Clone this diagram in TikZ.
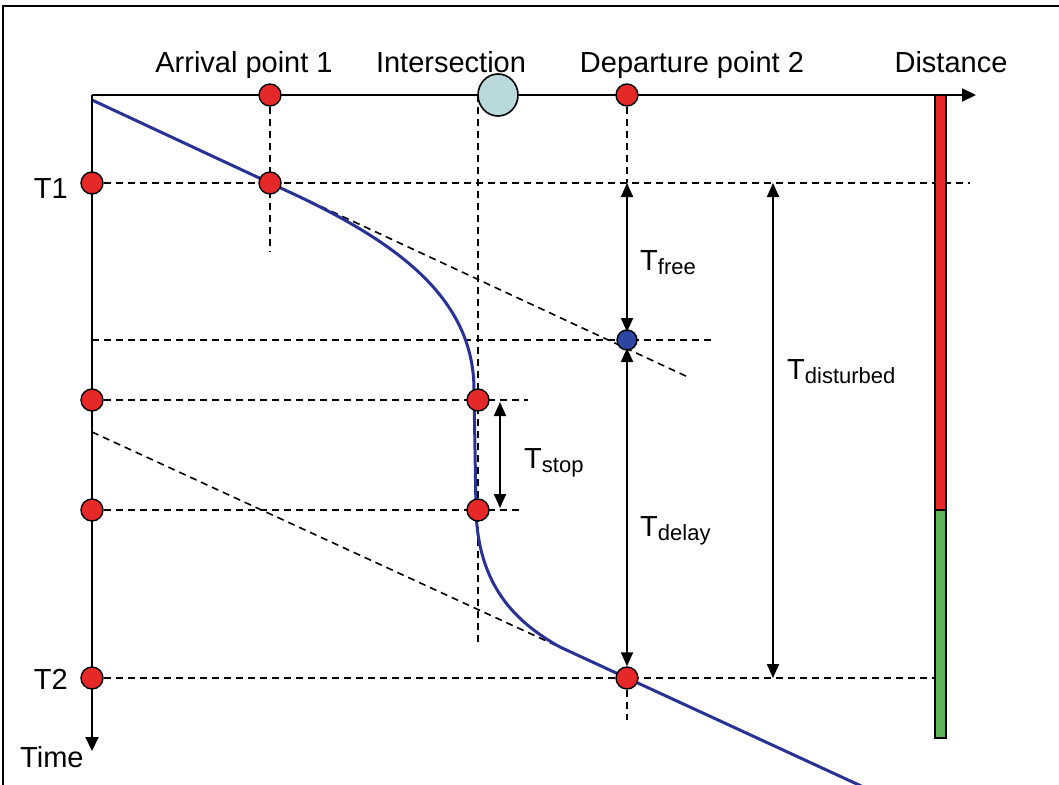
\documentclass[tikz,border=0pt]{standalone}
\usepackage{fontspec}
\setmainfont{Liberation Sans}
\usetikzlibrary{arrows.meta,positioning,calc,backgrounds,shapes.geometric}
\definecolor{dotRed}{RGB}{230,40,40}
\definecolor{dotBlue}{RGB}{45,70,160}
\definecolor{crossTeal}{RGB}{185,217,219}
\definecolor{pathBlue}{RGB}{40,50,150}
\definecolor{barGreen}{RGB}{95,178,85}
\tikzset{
  event/.style={circle, draw, line width=1.4pt, fill=dotRed, minimum size=22pt, inner sep=0pt},
  freeflow/.style={circle, draw, line width=1.4pt, fill=dotBlue, minimum size=20pt, inner sep=0pt},
  crossing/.style={ellipse, draw, line width=1.6pt, fill=crossTeal, minimum width=40pt, minimum height=42pt, inner sep=0pt},
  axis/.style={line width=2pt, -{Triangle[length=14pt, width=13pt]}},
  guide/.style={line width=1.6pt, dash pattern=on 7pt off 5pt},
  route/.style={line width=3pt, pathBlue},
  span/.style={line width=2pt, {Triangle[length=14pt, width=12pt]}-{Triangle[length=14pt, width=12pt]}},
  lbl/.style={font=\fontsize{29}{32}\selectfont, inner sep=0pt}
}
\newcommand{\tsub}[1]{T\raisebox{-4pt}{\fontsize{22}{25}\selectfont #1}}

\begin{document}
\begin{tikzpicture}[x=1pt,y=-1pt]
  \useasboundingbox (0,0) rectangle (1059,784);
  \clip (0,0) rectangle (1059,784);
  \draw[line width=2pt] (3,790) -- (3,6) -- (1065,6);

  % axes
  \coordinate (o) at (92,95);
  \coordinate (xend) at (976,95);
  \coordinate (yend) at (92,751);
  \draw[axis] (o) -- (xend);
  \draw[axis] (o) -- (yend);

  % events on the time and distance axes
  \node[event] (arrAx) at (270,95) {};
  \node[crossing] (isec) at (498,95) {};
  \node[event] (depAx) at (627,95) {};
  \node[event] (t1) at (92,183) {};
  \node[event] (arr) at (270,183) {};
  \node[freeflow] (fr) at (627,340) {};
  \node[event] (stopA) at (92,400) {};
  \node[event] (stopB) at (478,400) {};
  \node[event] (goA) at (92,510) {};
  \node[event] (goB) at (478,510) {};
  \node[event] (t2) at (92,678) {};
  \node[event] (dep) at (627,678) {};

  \begin{scope}[on background layer]
    % guide lines
    \coordinate (t1end) at (970,183);
    \coordinate (frend) at (712,340);
    \coordinate (stopend) at (528,400);
    \coordinate (goend) at (520,510);
    \coordinate (t2end) at (935,678);
    \coordinate (arrend) at (270,252);
    \coordinate (isecend) at (478,643);
    \coordinate (depend) at (627,720);
    \coordinate (tanA) at (92,100);
    \coordinate (tanAend) at (690,378);
    \coordinate (tanB) at (92,432);
    \coordinate (tanBend) at (890,799);
    \draw[guide] (t1.center) -- (t1end);
    \draw[guide] (92,340) -- (frend);
    \draw[guide] (stopA.center) -- (stopend);
    \draw[guide] (goA.center) -- (goend);
    \draw[guide] (t2.center) -- (t2end);
    \draw[guide] (arrAx.center) -- (arrend);
    \draw[guide] (478,95) -- (isecend);
    \draw[guide] (depAx.center) -- (627,183);
    \draw[guide] (dep.center) -- (depend);
    \draw[guide] (tanA) -- (tanAend);
    \draw[guide] (tanB) -- (tanBend);
    % vehicle trajectory
    \draw[route] (tanA) -- (300,197) .. controls (400,245) and (474,300) .. (474,390)
      -- (476,510) .. controls (478,585) and (515,622) .. (560,647) -- (dep.center) -- (885,797);
  \end{scope}

  % status bar
  \filldraw[fill=dotRed, line width=1.5pt] (935,95) rectangle (946,510);
  \filldraw[fill=barGreen, line width=1.5pt] (935,510) rectangle (946,738);

  % time spans
  \coordinate (freeTop) at (627,183);
  \coordinate (stopTop) at (500,402);
  \coordinate (stopBot) at (500,508);
  \coordinate (distTop) at (773,183);
  \coordinate (distBot) at (773,678);
  \draw[span, shorten >=8pt] (freeTop) -- (fr.center);
  \draw[span, shorten <=8pt] (fr.center) -- (dep.north);
  \draw[span] (stopTop) -- (stopBot);
  \draw[span] (distTop) -- (distBot);

  % labels
  \node[lbl, anchor=base] (lArr) at (244,73) {Arrival point 1};
  \node[lbl, anchor=base] (lIsec) at (451,73) {Intersection};
  \node[lbl, anchor=base] (lDep) at (692,73) {Departure point 2};
  \node[lbl, anchor=base] (lDist) at (951,73) {Distance};
  \node[lbl, anchor=base east] (lT1) at (68,198) {T1};
  \node[lbl, anchor=base east] (lT2) at (68,689) {T2};
  \node[lbl, anchor=base west] (lTime) at (20,767) {Time};
  \node[lbl, anchor=base west] (lFree) at (640,270) {\tsub{free}};
  \node[lbl, anchor=base west] (lStop) at (524,468) {\tsub{stop}};
  \node[lbl, anchor=base west] (lDelay) at (640,536) {\tsub{delay}};
  \node[lbl, anchor=base west] (lDist2) at (787,379) {\tsub{disturbed}};
\end{tikzpicture}
\end{document}
